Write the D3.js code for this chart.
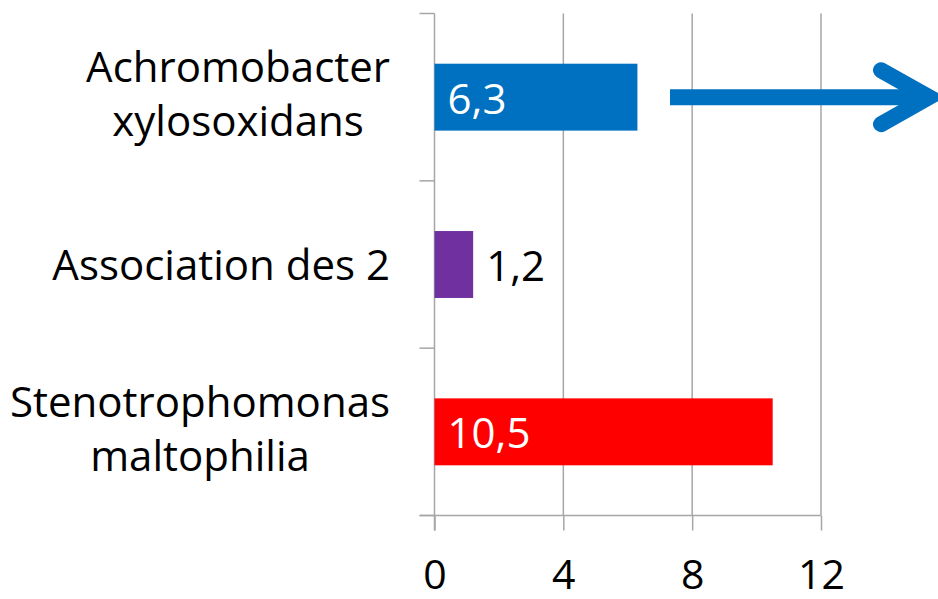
<!DOCTYPE html>
<html>
<head>
<meta charset="utf-8">
<script src="https://cdn.jsdelivr.net/npm/d3@7"></script>
<style>
  html, body { margin: 0; padding: 0; background: #fff; }
  text { font-family: "Open Sans", sans-serif; }
</style>
</head>
<body>
<div id="chart"></div>
<script>
var W = 938, H = 599;

// données
var categories = [
  ["Achromobacter", "xylosoxidans"],
  ["Association des 2"],
  ["Stenotrophomonas", "maltophilia"]
];
var values = [6.3, 1.2, 10.5];
var xTicks = [0, 4, 8, 12];
var barColors = ["#0070C0", "#7030A0", "#FF0000"];

var m = {top: 13.5, left: 434.5, right: 821, bottom: 515.5},
    gridColor = "#A6A6A6";

var svg = d3.select("#chart").append("svg")
    .attr("width", W)
    .attr("height", H);

var x = d3.scaleLinear().domain([0, 12]).range([m.left, m.right]);
var y = d3.scaleBand()
    .domain(d3.range(categories.length))
    .range([m.top, m.bottom])
    .paddingInner(0.6)
    .paddingOuter(0.3);

// grille verticale
svg.append("g").selectAll("line")
    .data(xTicks.filter(function (d) { return d > 0; }))
    .enter().append("line")
    .attr("x1", function (d) { return x(d); })
    .attr("x2", function (d) { return x(d); })
    .attr("y1", m.top)
    .attr("y2", m.bottom)
    .attr("stroke", gridColor)
    .attr("stroke-width", 1.5);

// axe x
var xAxis = svg.append("g")
    .attr("transform", "translate(0," + m.bottom + ")")
    .call(d3.axisBottom(x).tickValues(xTicks).tickSize(15).tickSizeOuter(0).tickPadding(0));
xAxis.select(".domain").remove();
xAxis.selectAll(".tick line").attr("stroke", gridColor).attr("stroke-width", 1.5);
xAxis.selectAll(".tick text")
    .attr("y", 73)
    .attr("dy", 0)
    .attr("font-size", 41)
    .attr("font-family", "Open Sans")
    .attr("fill", "#000");
svg.append("line")
    .attr("x1", m.left - 15).attr("x2", m.right)
    .attr("y1", m.bottom).attr("y2", m.bottom)
    .attr("stroke", gridColor).attr("stroke-width", 1.5);

// axe y : ligne + graduations entre catégories
var yTickPos = d3.range(categories.length + 1).map(function (i) {
    return m.top + i * (m.bottom - m.top) / categories.length;
});
svg.append("line")
    .attr("x1", m.left).attr("x2", m.left)
    .attr("y1", m.top).attr("y2", m.bottom + 15)
    .attr("stroke", gridColor).attr("stroke-width", 1.5);
svg.append("g").selectAll("line")
    .data(yTickPos).enter().append("line")
    .attr("x1", m.left - 15).attr("x2", m.left)
    .attr("y1", function (d) { return d; })
    .attr("y2", function (d) { return d; })
    .attr("stroke", gridColor).attr("stroke-width", 1.5);

// barres
svg.append("g").selectAll("rect")
    .data(values).enter().append("rect")
    .attr("x", x(0))
    .attr("y", function (d, i) { return y(i); })
    .attr("width", function (d) { return x(d) - x(0); })
    .attr("height", y.bandwidth())
    .attr("fill", function (d, i) { return barColors[i]; });

// étiquettes de valeurs
svg.append("g").selectAll("text")
    .data(values).enter().append("text")
    .attr("x", function (d) { return (x(d) - x(0) > 100) ? x(0) + 13 : x(d) + 13; })
    .attr("y", function (d, i) { return y(i) + y.bandwidth() / 2; })
    .attr("dy", "0.39em")
    .attr("font-size", 42)
    .attr("fill", function (d) { return (x(d) - x(0) > 100) ? "#fff" : "#000"; })
    .text(function (d) { return String(d).replace(".", ","); });

// libellés des catégories (lignes centrées, bloc aligné à droite)
var lineH = 54, labelRight = 390;
categories.forEach(function (lines, i) {
    var g = svg.append("g");
    var cy = y(i) + y.bandwidth() / 2;
    var texts = g.selectAll("text").data(lines).enter().append("text")
        .attr("font-size", 42)
        .attr("fill", "#000")
        .attr("text-anchor", "middle")
        .attr("y", function (d, j) { return cy + (j - (lines.length - 1) / 2) * lineH; })
        .attr("dy", lines.length > 1 ? "0.28em" : "0.36em")
        .text(function (d) { return d; });
    var maxW = 0;
    texts.each(function () { maxW = Math.max(maxW, this.getComputedTextLength()); });
    texts.attr("x", labelRight - maxW / 2);
});

// flèche
var ay = y(0) + y.bandwidth() / 2;
svg.append("line")
    .attr("x1", 670).attr("x2", 926)
    .attr("y1", ay).attr("y2", ay)
    .attr("stroke", "#0070C0").attr("stroke-width", 16);
svg.append("path")
    .attr("d", "M881," + (ay - 27) + "L929," + ay + "L881," + (ay + 27))
    .attr("fill", "none")
    .attr("stroke", "#0070C0")
    .attr("stroke-width", 16)
    .attr("stroke-linecap", "round")
    .attr("stroke-linejoin", "miter");
</script>
</body>
</html>
